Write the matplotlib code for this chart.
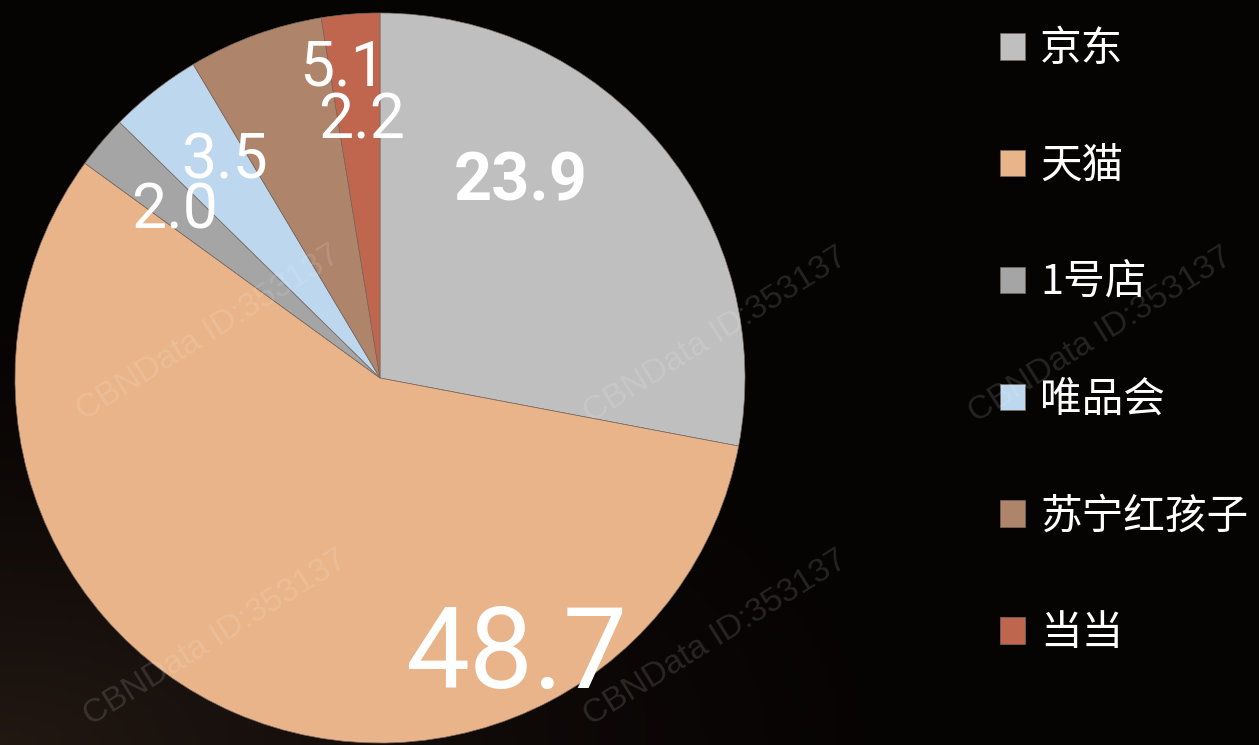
import numpy as np
import matplotlib.pyplot as plt

# 各平台份额(%)
platforms = ["京东", "天猫", "1号店", "唯品会", "苏宁红孩子", "当当"]
shares = [23.9, 48.7, 2.0, 3.5, 5.1, 2.2]
colors = ["#BFBFBF", "#E9B489", "#A5A5A5", "#BDD7EE", "#AE846A", "#C0664F"]

# 数据标签:字号/粗细/相对扇区中心的位置微调
lbl_size = [48, 82, 45, 45, 45, 45]
lbl_weight = ["bold", "normal", "normal", "normal", "normal", "normal"]
lbl_r = [0.66, 0.85, 0.725, 0.73, 0.855, 0.705]
lbl_dang = [14.7, 49.5, 1.3, -2.4, -13.2, -0.5]

W, H = 1259, 745
fig = plt.figure(figsize=(W / 100, H / 100), dpi=100)
fig.patch.set_facecolor("#060303")

# 背景渐变(左下偏棕)
bg = fig.add_axes([0, 0, 1, 1], zorder=-10)
yy, xx = np.mgrid[0:1:200j, 0:1:300j]
t = np.clip(1 - np.hypot(xx * 1.3, (1 - yy) * 1.6), 0, 1) ** 1.5
base = np.array([6, 3, 3]) / 255
warm = np.array([34, 24, 18]) / 255
img = base + t[..., None] * (warm - base)
bg.imshow(img, aspect="auto", extent=[0, 1, 0, 1])
bg.axis("off")

cx, cy, r = 380, 378, 365
ax = fig.add_axes([(cx - r) / W, (H - cy - r) / H, 2 * r / W, 2 * r / H])
wedges, _ = ax.pie(shares, colors=colors, startangle=90, counterclock=False,
                   wedgeprops=dict(edgecolor="#7a6a60", linewidth=0.5))
ax.set_xlim(-1, 1)
ax.set_ylim(-1, 1)
ax.axis("off")

for w, v, fs, fw, rr, da in zip(wedges, shares, lbl_size, lbl_weight, lbl_r, lbl_dang):
    ang = np.deg2rad((w.theta1 + w.theta2) / 2 + da)
    ax.text(rr * np.cos(ang), rr * np.sin(ang), f"{v:.1f}", color="white",
            fontsize=fs, fontweight=fw, family=["Roboto", "DejaVu Sans"],
            ha="center", va="center", zorder=5)

# 水印
for wx, wy in [(208, 333), (715, 335), (1100, 335), (215, 638), (715, 638)]:
    fig.text(wx / W, 1 - wy / H, "CBNData ID:353137", color="white", alpha=0.13,
             fontsize=24, family="Liberation Sans", rotation=32,
             ha="center", va="center", zorder=20)

leg = fig.legend(wedges, platforms, loc="upper left",
                 bbox_to_anchor=(1000 / W, 1 - 29 / H), frameon=False,
                 prop={"family": ["Noto Sans CJK SC", "DejaVu Sans"], "size": 30},
                 labelcolor="white", handlelength=0.6, handleheight=0.6,
                 handletextpad=0.36, labelspacing=1.82, borderpad=0,
                 borderaxespad=0)

fig.savefig("out.png", dpi=100, facecolor=fig.get_facecolor())
